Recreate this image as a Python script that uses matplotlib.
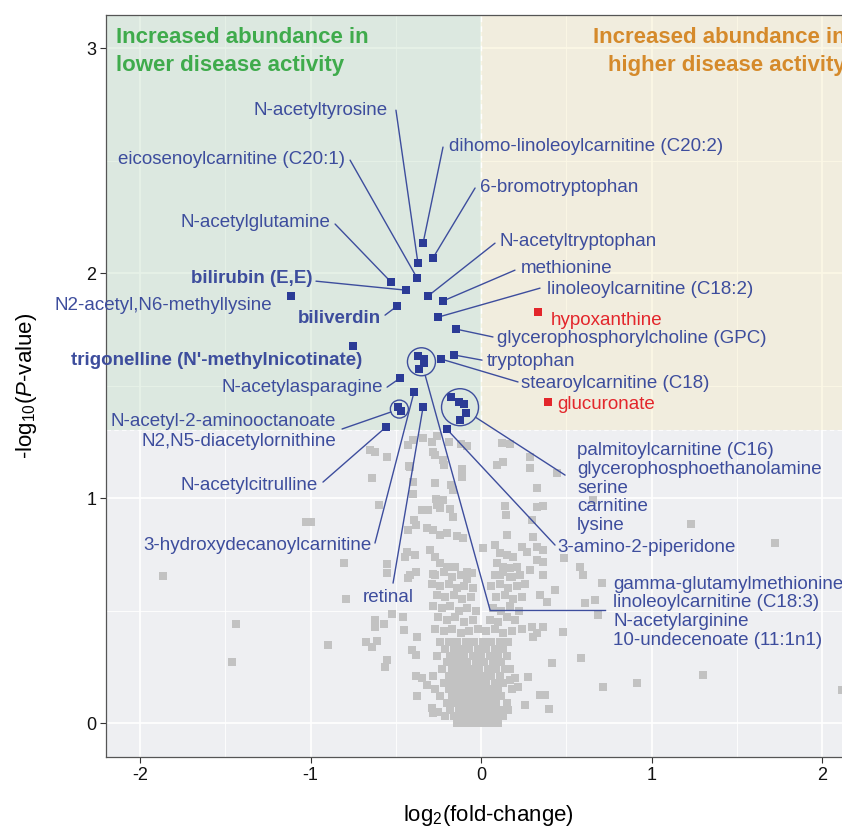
import matplotlib
matplotlib.use("Agg")
import matplotlib.pyplot as plt
from matplotlib import font_manager


def has_font(name):
    try:
        font_manager.findfont(name, fallback_to_default=False)
        return True
    except ValueError:
        return False


narrow = "Liberation Sans Narrow" if has_font("Liberation Sans Narrow") else "Liberation Sans"

plt.rcParams["font.family"] = ["Liberation Sans", "DejaVu Sans"]
plt.rcParams["axes.unicode_minus"] = False
plt.rcParams["mathtext.fontset"] = "custom"
plt.rcParams["mathtext.rm"] = narrow
plt.rcParams["mathtext.it"] = narrow + ":italic"

p_cut = 1.301  # -log10(0.05)

# ---- not significant metabolites (log2 fold-change, -log10 p) ----
gray_core = [
    (-0.14, 0.00), (-0.10, 0.00), (-0.06, 0.00), (-0.02, 0.00), (0.02, 0.00), (0.06, 0.00), (0.10, 0.00),
    (-0.21, 0.03), (-0.16, 0.03), (-0.12, 0.03), (-0.08, 0.03), (-0.04, 0.03), (0.00, 0.03), (0.04, 0.03),
    (0.08, 0.03), (0.13, 0.03),
    (-0.18, 0.06), (-0.13, 0.06), (-0.09, 0.06), (-0.05, 0.06), (-0.01, 0.06), (0.03, 0.06), (0.07, 0.06),
    (0.11, 0.06), (0.16, 0.06), (-0.25, 0.05),
    (-0.20, 0.09), (-0.15, 0.09), (-0.11, 0.09), (-0.07, 0.09), (-0.03, 0.09), (0.01, 0.09), (0.05, 0.09),
    (0.09, 0.09), (0.15, 0.09),
    (-0.24, 0.12), (-0.17, 0.12), (-0.13, 0.12), (-0.09, 0.12), (-0.05, 0.12), (-0.01, 0.12), (0.03, 0.12),
    (0.07, 0.12), (0.12, 0.12),
    (-0.19, 0.15), (-0.15, 0.15), (-0.11, 0.15), (-0.07, 0.15), (-0.03, 0.15), (0.01, 0.15), (0.05, 0.15),
    (0.10, 0.15), (-0.27, 0.15), (0.18, 0.15),
    (-0.22, 0.18), (-0.17, 0.18), (-0.13, 0.18), (-0.09, 0.18), (-0.05, 0.18), (-0.01, 0.18), (0.03, 0.18),
    (0.08, 0.18), (0.13, 0.18),
    (-0.19, 0.21), (-0.15, 0.21), (-0.11, 0.21), (-0.07, 0.21), (-0.03, 0.21), (0.01, 0.21), (0.06, 0.21),
    (0.11, 0.21), (-0.28, 0.21),
    (-0.23, 0.24), (-0.17, 0.24), (-0.13, 0.24), (-0.09, 0.24), (-0.05, 0.24), (-0.01, 0.24), (0.04, 0.24),
    (0.09, 0.24), (0.14, 0.24), (0.17, 0.24),
    (-0.20, 0.27), (-0.16, 0.27), (-0.12, 0.27), (-0.08, 0.27), (-0.03, 0.27), (0.02, 0.27), (0.07, 0.27),
    (0.12, 0.27),
    (-0.26, 0.30), (-0.18, 0.30), (-0.14, 0.30), (-0.10, 0.30), (-0.05, 0.30), (0.00, 0.30), (0.05, 0.30),
    (0.10, 0.30), (0.15, 0.30),
    (-0.21, 0.33), (-0.16, 0.33), (-0.12, 0.33), (-0.07, 0.33), (-0.02, 0.33), (0.03, 0.33), (0.08, 0.33),
    (0.13, 0.33),
    (-0.24, 0.36), (-0.19, 0.36), (-0.14, 0.36), (-0.09, 0.36), (-0.04, 0.36), (0.01, 0.36), (0.06, 0.36),
    (0.11, 0.36), (0.16, 0.36),
]

gray_columns = [
    (-0.27, 0.66), (-0.22, 0.67), (-0.17, 0.65), (-0.12, 0.66), (-0.08, 0.64),
    (-0.29, 0.62), (-0.24, 0.61), (-0.19, 0.62), (-0.14, 0.60), (-0.10, 0.61), (-0.05, 0.60),
    (-0.26, 0.57), (-0.21, 0.56), (-0.16, 0.57), (-0.11, 0.55), (-0.06, 0.56),
    (-0.28, 0.52), (-0.23, 0.51), (-0.18, 0.52), (-0.13, 0.50), (-0.08, 0.51), (-0.03, 0.50),
    (-0.25, 0.47), (-0.20, 0.46), (-0.15, 0.47), (-0.10, 0.45), (-0.05, 0.46),
    (-0.27, 0.42), (-0.22, 0.41), (-0.17, 0.42), (-0.12, 0.40), (-0.07, 0.41), (-0.02, 0.42),
    (0.08, 0.66), (0.13, 0.67), (0.18, 0.65), (0.23, 0.66),
    (0.06, 0.61), (0.11, 0.62), (0.16, 0.60), (0.21, 0.61), (0.26, 0.62),
    (0.09, 0.56), (0.14, 0.57), (0.19, 0.55), (0.24, 0.56),
    (0.07, 0.51), (0.12, 0.50), (0.17, 0.52), (0.22, 0.50),
    (0.05, 0.46), (0.10, 0.45), (0.15, 0.47), (0.20, 0.46),
    (0.03, 0.41), (0.08, 0.42), (0.13, 0.40), (0.18, 0.41), (0.24, 0.42),
]

gray_upper = [
    (-0.399, 1.258), (-0.340, 1.267), (-0.287, 1.249), (-0.258, 1.276), (-0.188, 1.249), (-0.117, 1.240),
    (-0.082, 1.231), (-0.282, 1.204), (-0.270, 1.191), (-0.223, 1.169), (-0.217, 1.147), (-0.111, 1.129),
    (-0.111, 1.093), (-0.416, 1.138), (-0.399, 1.071), (-0.270, 1.067), (-0.176, 1.058), (-0.164, 1.036),
    (-0.399, 1.018), (-0.264, 0.996), (-0.223, 0.991), (-0.346, 0.947), (-0.311, 0.947), (-0.258, 0.969),
    (-0.240, 0.956), (-0.182, 0.951), (-0.164, 0.916), (-0.393, 0.902), (-0.428, 0.858), (-0.317, 0.867),
    (-0.282, 0.858), (-0.240, 0.836), (-0.199, 0.844), (-0.141, 0.831), (-0.106, 0.822), (-0.434, 0.760),
    (-0.387, 0.747), (-0.299, 0.769), (-0.270, 0.738), (-0.240, 0.711), (-0.199, 0.693), (-0.152, 0.693),
    (-0.082, 0.671), (-0.053, 0.667), (-0.416, 0.658), (-0.282, 0.662),
    (0.123, 1.244), (0.170, 1.240), (0.287, 1.182), (0.094, 1.147), (0.129, 1.160), (0.287, 1.133),
    (0.446, 1.111), (0.328, 1.044), (0.328, 0.960), (0.364, 0.964), (0.141, 0.964), (0.147, 0.924),
    (0.299, 0.902), (0.152, 0.836), (0.305, 0.827), (0.012, 0.778), (0.082, 0.791), (0.111, 0.756),
    (0.152, 0.747), (0.188, 0.738), (0.240, 0.782), (0.270, 0.760), (0.328, 0.782), (0.364, 0.769),
    (0.328, 0.724), (0.364, 0.716), (0.094, 0.711), (0.129, 0.693), (0.170, 0.689), (0.211, 0.693),
    (0.287, 0.680), (0.111, 0.658), (0.170, 0.649), (0.364, 0.658),
]

gray_spread = [
    (-0.651, 1.213), (-0.622, 1.204), (-0.551, 1.182), (-0.428, 1.236), (-0.422, 1.142), (-0.639, 1.089),
    (-0.598, 0.969), (-1.026, 0.893), (-0.997, 0.893), (-0.381, 0.880), (-0.804, 0.711), (-0.551, 0.707),
    (-0.551, 0.667), (-0.446, 0.738), (-0.428, 0.644), (-0.381, 0.671), (-1.865, 0.653), (-0.792, 0.551),
    (-0.522, 0.484), (-0.457, 0.471), (-0.622, 0.458), (-0.622, 0.427), (-0.569, 0.440), (-0.452, 0.413),
    (-1.437, 0.440), (-0.897, 0.347), (-0.674, 0.360), (-0.639, 0.338), (-0.610, 0.364), (-0.375, 0.382),
    (-0.405, 0.324), (-0.381, 0.302), (-1.460, 0.271), (-0.551, 0.280), (-0.563, 0.249), (-0.381, 0.209),
    (-0.375, 0.120), (-0.346, 0.200), (-0.317, 0.169), (-0.287, 0.067), (-0.282, 0.044),
    (0.657, 0.991), (1.232, 0.884), (1.724, 0.800), (0.487, 0.733), (0.581, 0.693), (0.598, 0.658),
    (0.434, 0.591), (0.710, 0.622), (0.387, 0.538), (0.610, 0.533), (0.669, 0.547), (0.686, 0.480),
    (0.481, 0.404), (0.364, 0.427), (0.587, 0.289), (0.416, 0.267), (1.302, 0.213), (0.915, 0.178),
    (0.716, 0.160), (0.375, 0.124), (0.399, 0.062), (2.117, 0.147), (0.346, 0.569), (0.299, 0.427),
    (0.305, 0.382), (0.328, 0.400), (0.276, 0.204), (0.346, 0.124), (0.258, 0.080), (0.170, 0.191),
    (0.199, 0.200), (0.217, 0.160),
]

# ---- significant: increased in lower disease activity ----
blue_names = [
    "N-acetyltyrosine", "eicosenoylcarnitine (C20:1)", "dihomo-linoleoylcarnitine (C20:2)",
    "6-bromotryptophan", "N-acetylglutamine", "N-acetyltryptophan", "bilirubin (E,E)", "methionine",
    "N2-acetyl,N6-methyllysine", "linoleoylcarnitine (C18:2)", "biliverdin", "glycerophosphorylcholine (GPC)",
    "trigonelline (N'-methylnicotinate)", "tryptophan", "stearoylcarnitine (C18)", "N-acetylasparagine",
    "N-acetyl-2-aminooctanoate", "N2,N5-diacetylornithine", "N-acetylcitrulline",
    "3-hydroxydecanoylcarnitine", "retinal",
    "palmitoylcarnitine (C16)", "glycerophosphoethanolamine", "serine", "carnitine", "lysine",
    "3-amino-2-piperidone",
    "gamma-glutamylmethionine", "linoleoylcarnitine (C18:3)", "N-acetylarginine", "10-undecenoate (11:1n1)",
]
blue_fc = [
    -0.370, -0.375, -0.340, -0.282, -0.528, -0.311, -0.440, -0.223,
    -1.114, -0.252, -0.493, -0.147,
    -0.751, -0.158, -0.235, -0.475,
    -0.489, -0.469, -0.557,
    -0.393, -0.340,
    -0.176, -0.129, -0.100, -0.088, -0.123,
    -0.199,
    -0.368, -0.334, -0.334, -0.362,
]
blue_logp = [
    2.044, 1.978, 2.133, 2.067, 1.960, 1.898, 1.924, 1.876,
    1.898, 1.804, 1.853, 1.751,
    1.676, 1.636, 1.618, 1.533,
    1.403, 1.388, 1.316,
    1.471, 1.404,
    1.449, 1.427, 1.418, 1.378, 1.347,
    1.305,
    1.632, 1.618, 1.601, 1.572,
]
bold_names = ["bilirubin (E,E)", "biliverdin", "trigonelline (N'-methylnicotinate)"]

# ---- significant: increased in higher disease activity ----
red_names = ["hypoxanthine", "glucuronate"]
red_fc = [0.332, 0.395]
red_logp = [1.825, 1.428]

# ---- label layout: text x, text y, ha, leader start (x, y) ----
label_pos = {
    "N-acetyltyrosine": (-0.545, 2.724, "right", (-0.499, 2.724)),
    "eicosenoylcarnitine (C20:1)": (-0.798, 2.507, "right", (-0.768, 2.502)),
    "dihomo-linoleoylcarnitine (C20:2)": (-0.188, 2.564, "left", (-0.223, 2.560)),
    "6-bromotryptophan": (-0.006, 2.382, "left", (-0.035, 2.378)),
    "N-acetylglutamine": (-0.886, 2.227, "right", (-0.856, 2.218)),
    "N-acetyltryptophan": (0.106, 2.142, "left", (0.082, 2.133)),
    "bilirubin (E,E)": (-0.991, 1.978, "right", (-0.968, 1.964)),
    "methionine": (0.235, 2.022, "left", (0.199, 2.013)),
    "N2-acetyl,N6-methyllysine": (-1.226, 1.858, "right", None),
    "linoleoylcarnitine (C18:2)": (0.387, 1.929, "left", (0.346, 1.933)),
    "biliverdin": (-0.587, 1.796, "right", (-0.563, 1.813)),
    "glycerophosphorylcholine (GPC)": (0.094, 1.707, "left", (0.070, 1.716)),
    "trigonelline (N'-methylnicotinate)": (-0.698, 1.613, "right", None),
    "tryptophan": (0.035, 1.609, "left", (0.006, 1.613)),
    "stearoylcarnitine (C18)": (0.235, 1.507, "left", (0.217, 1.516)),
    "N-acetylasparagine": (-0.575, 1.493, "right", (-0.551, 1.493)),
    "N-acetylcitrulline": (-0.956, 1.058, "right", (-0.927, 1.071)),
    "3-hydroxydecanoylcarnitine": (-0.639, 0.791, "right", (-0.622, 0.800)),
    "retinal": (-0.545, 0.556, "center", (-0.516, 0.622)),
    "3-amino-2-piperidone": (0.446, 0.782, "left", (0.434, 0.791)),
}
red_label_pos = {
    "hypoxanthine": (0.411, 1.791),
    "glucuronate": (0.446, 1.418),
}
# circled groups: members, circle diameter (px), text x, text y per line, ha, leader start
groups = [
    (["N-acetyl-2-aminooctanoate", "N2,N5-diacetylornithine"], 18,
     -0.850, [1.342, 1.253], "right", (-0.815, 1.307)),
    (["palmitoylcarnitine (C16)", "glycerophosphoethanolamine", "serine", "carnitine", "lysine"], 37,
     0.563, [1.213, 1.129, 1.044, 0.964, 0.880], "left", (0.493, 1.102)),
    (["gamma-glutamylmethionine", "linoleoylcarnitine (C18:3)", "N-acetylarginine", "10-undecenoate (11:1n1)"], 28,
     0.774, [0.618, 0.538, 0.453, 0.369], "left", (0.053, 0.502)),
]
elbow_end = (0.727, 0.502)

# ---- colours ----
panel_bg = "#eeeff2"
green_fill = "#bcdbbf"
tan_fill = "#f8ecb9"
gray_col = "#c2c2c2"
blue_pt = "#2b3b96"
blue_txt = "#3d4d9d"
red_col = "#e3262b"
green_txt = "#3fab4c"
orange_txt = "#d58a2b"

fig = plt.figure(figsize=(8.42, 8.34), dpi=100)
ax = fig.add_axes([0.1258, 0.0923, 0.9075, 0.8897])
ax.set_xlim(-2.2, 2.2815)
ax.set_ylim(-0.151, 3.147)
ax.set_facecolor(panel_bg)

ax.set_axisbelow(True)
ax.set_xticks([-2, -1, 0, 1, 2])
ax.set_yticks([0, 1, 2, 3])
ax.set_xticks([-1.5, -0.5, 0.5, 1.5], minor=True)
ax.set_yticks([0.5, 1.5, 2.5], minor=True)
ax.grid(which="major", color="white", lw=1.2)
ax.grid(which="minor", color="white", lw=0.6)
ax.tick_params(which="minor", length=0)
ax.tick_params(which="major", length=4, width=0.8, color="#333333", labelsize=13,
               labelcolor="#111111", pad=3)
for lab in ax.get_xticklabels() + ax.get_yticklabels():
    lab.set_family([narrow, "DejaVu Sans"])
for side in ["top", "left", "bottom"]:
    ax.spines[side].set_color("#555555")
    ax.spines[side].set_linewidth(0.9)
ax.spines["right"].set_visible(False)

# shaded regions
ax.axvspan(-2.2, 0, ymin=(p_cut + 0.151) / 3.298, ymax=1, color=green_fill, alpha=0.35, lw=0, zorder=0.6)
ax.axvspan(0, 2.2815, ymin=(p_cut + 0.151) / 3.298, ymax=1, color=tan_fill, alpha=0.35, lw=0, zorder=0.6)
ax.axhline(p_cut, color="white", lw=0.8, ls=(0, (4, 3)), alpha=0.8, zorder=0.7)
ax.plot([0, 0], [p_cut, 3.147], color="white", lw=1.0, ls=(0, (4, 3)), zorder=0.7)

# non-significant points
gx, gy = zip(*(gray_core + gray_columns + gray_upper + gray_spread))
ax.scatter(gx, gy, marker="s", s=26, color=gray_col, lw=0, zorder=2)

# significant points
ax.scatter(blue_fc, blue_logp, marker="s", s=30, color=blue_pt, lw=0, zorder=4)
ax.scatter(red_fc, red_logp, marker="s", s=28, color=red_col, lw=0, zorder=4)

txt_kw = dict(fontsize=13.5, va="center", zorder=5)

# single labels
for name, (tx, ty, ha, start) in label_pos.items():
    i = blue_names.index(name)
    weight = "bold" if name in bold_names else "normal"
    ax.text(tx, ty, name, ha=ha, color=blue_txt, fontweight=weight, **txt_kw)
    if start is not None:
        ax.annotate("", xy=(blue_fc[i], blue_logp[i]), xytext=start,
                    arrowprops=dict(arrowstyle="-", color=blue_txt, lw=1.0, shrinkA=0, shrinkB=2),
                    zorder=3)

for name, (tx, ty) in red_label_pos.items():
    ax.text(tx, ty, name, ha="left", color=red_col, **txt_kw)

# circled groups
for members, diam, tx, tys, ha, start in groups:
    idx = [blue_names.index(m) for m in members]
    cx = sum(blue_fc[i] for i in idx) / len(idx)
    cy = sum(blue_logp[i] for i in idx) / len(idx)
    d_pt = diam * 0.72
    ax.scatter([cx], [cy], marker="o", s=d_pt ** 2, facecolors="none", edgecolors=blue_txt,
               lw=1.0, zorder=4)
    ax.annotate("", xy=(cx, cy), xytext=start,
                arrowprops=dict(arrowstyle="-", color=blue_txt, lw=1.0, shrinkA=0, shrinkB=d_pt / 2),
                zorder=3)
    for m, ty in zip(members, tys):
        ax.text(tx, ty, m, ha=ha, color=blue_txt, **txt_kw)
ax.plot([groups[2][5][0], elbow_end[0]], [groups[2][5][1], elbow_end[1]], color=blue_txt, lw=1.0, zorder=3)

# region headers (the right-hand one runs past the panel edge, as in the original)
ax.text(-2.141, 3.049, "Increased abundance in", color=green_txt, fontsize=16, fontweight="bold",
        ha="left", va="center", zorder=5)
ax.text(-2.141, 2.924, "lower disease activity", color=green_txt, fontsize=16, fontweight="bold",
        ha="left", va="center", zorder=5)
ax.text(2.141, 3.049, "Increased abundance in", color=orange_txt, fontsize=16, fontweight="bold",
        ha="right", va="center", zorder=5)
ax.text(2.141, 2.924, "higher disease activity", color=orange_txt, fontsize=16, fontweight="bold",
        ha="right", va="center", zorder=5)

ax.set_xlabel(r"$\mathrm{log_2}$(fold-change)", fontsize=16, family=[narrow, "DejaVu Sans"], labelpad=14)
ax.set_ylabel(r"-$\mathrm{log_{10}}$($\mathit{P}$-value)", fontsize=16, family=[narrow, "DejaVu Sans"],
              labelpad=34)

fig.savefig("out.png", dpi=100)
